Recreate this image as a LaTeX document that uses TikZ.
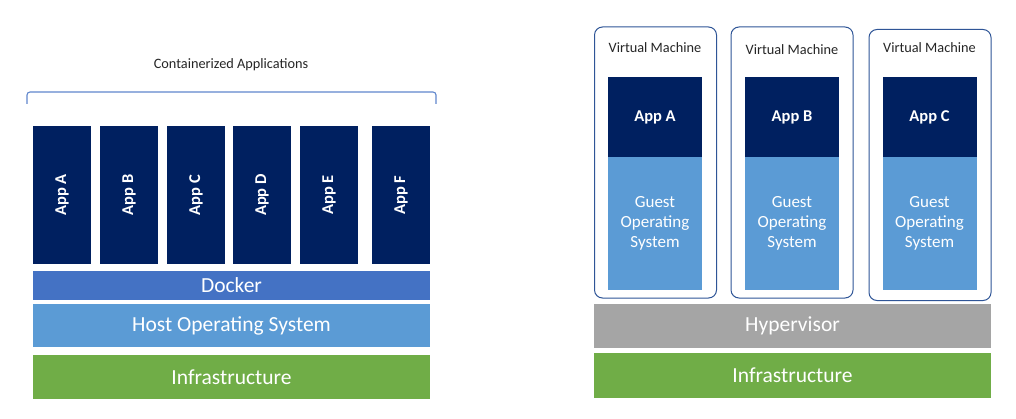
\documentclass[tikz,border=0pt]{standalone}
\usepackage{fontspec}
\setmainfont{Carlito}
\definecolor{appnavy}{HTML}{002060}
\definecolor{dockerblue}{HTML}{4472C4}
\definecolor{osblue}{HTML}{5B9BD5}
\definecolor{infragreen}{HTML}{70AD47}
\definecolor{hypergray}{HTML}{A5A5A5}
\definecolor{vmborder}{HTML}{2F5597}
\tikzset{
  AppStyle/.style = { rectangle, fill = appnavy, text = white, inner sep=0pt,
                      font = \fontsize{16.5}{19}\selectfont\bfseries },
  GuestStyle/.style = { rectangle, fill = osblue, text = white, inner sep=0pt,
                        align = center, minimum width=94pt, minimum height=133pt,
                        font = \fontsize{17}{20}\selectfont },
  LayerStyle/.style = { rectangle, text = white, inner sep=0pt,
                        minimum width=397pt,
                        font = \fontsize{21.5}{24}\selectfont },
  VMStyle/.style = { rectangle, rounded corners=8pt, draw=vmborder,
                     line width=1pt, fill=white,
                     minimum width=122pt, minimum height=271pt },
  TitleStyle/.style = { text = black!85, inner sep=0pt,
                        font = \fontsize{14.3}{16}\selectfont } }

\begin{document}
\begin{tikzpicture}[x=1pt,y=-1pt]
  \useasboundingbox[fill=white] (0,0) rectangle (1016,419);
  % containers
  \node[TitleStyle](T) at (231,65) {Containerized Applications};
  \draw[dockerblue!85, line width=1.1pt, rounded corners=3pt]
    (27,104) -- (27,92) -- (436,92) -- (436,104);
  \node[AppStyle, rotate=90, minimum width=138pt, minimum height=58pt](A) at (62,195) {App A};
  \node[AppStyle, rotate=90, minimum width=138pt, minimum height=58pt](B) at (129,195) {App B};
  \node[AppStyle, rotate=90, minimum width=138pt, minimum height=58pt](C) at (196,195) {App C};
  \node[AppStyle, rotate=90, minimum width=138pt, minimum height=58pt](D) at (262,195) {App D};
  \node[AppStyle, rotate=90, minimum width=138pt, minimum height=58pt](E) at (329,195) {App E};
  \node[AppStyle, rotate=90, minimum width=138pt, minimum height=58pt](F) at (401,195) {App F};
  \node[LayerStyle, fill=dockerblue, minimum height=29pt](Docker) at (231.5,285.5) {Docker};
  \node[LayerStyle, fill=osblue, minimum height=43pt](HostOS) at (231.5,325.5) {Host Operating System};
  \node[LayerStyle, fill=infragreen, minimum height=44pt](InfraL) at (231.5,377) {Infrastructure};
  % virtual machines
  \node[VMStyle](VA) at (655.5,162.5) {};
  \node[VMStyle](VB) at (792,162.5) {};
  \node[VMStyle](VC) at (930,165) {};
  \node[TitleStyle](TA) at (655,48) {Virtual Machine};
  \node[TitleStyle](TB) at (792,50) {Virtual Machine};
  \node[TitleStyle](TC) at (929.5,48) {Virtual Machine};
  \node[AppStyle, minimum width=94pt, minimum height=80pt](AA) at (655,117) {App A};
  \node[AppStyle, minimum width=94pt, minimum height=80pt](AB) at (792,117) {App B};
  \node[AppStyle, minimum width=94pt, minimum height=80pt](AC) at (929.5,117) {App C};
  \node[GuestStyle](GA) at (655,223.5) {Guest\\Operating\\System};
  \node[GuestStyle](GB) at (792,223.5) {Guest\\Operating\\System};
  \node[GuestStyle](GC) at (929.5,223.5) {Guest\\Operating\\System};
  \node[LayerStyle, fill=hypergray, minimum height=44pt](Hyper) at (792.5,326) {Hypervisor};
  \node[LayerStyle, fill=infragreen, minimum height=45pt](InfraR) at (792.5,375.5) {Infrastructure};
\end{tikzpicture}
\end{document}
